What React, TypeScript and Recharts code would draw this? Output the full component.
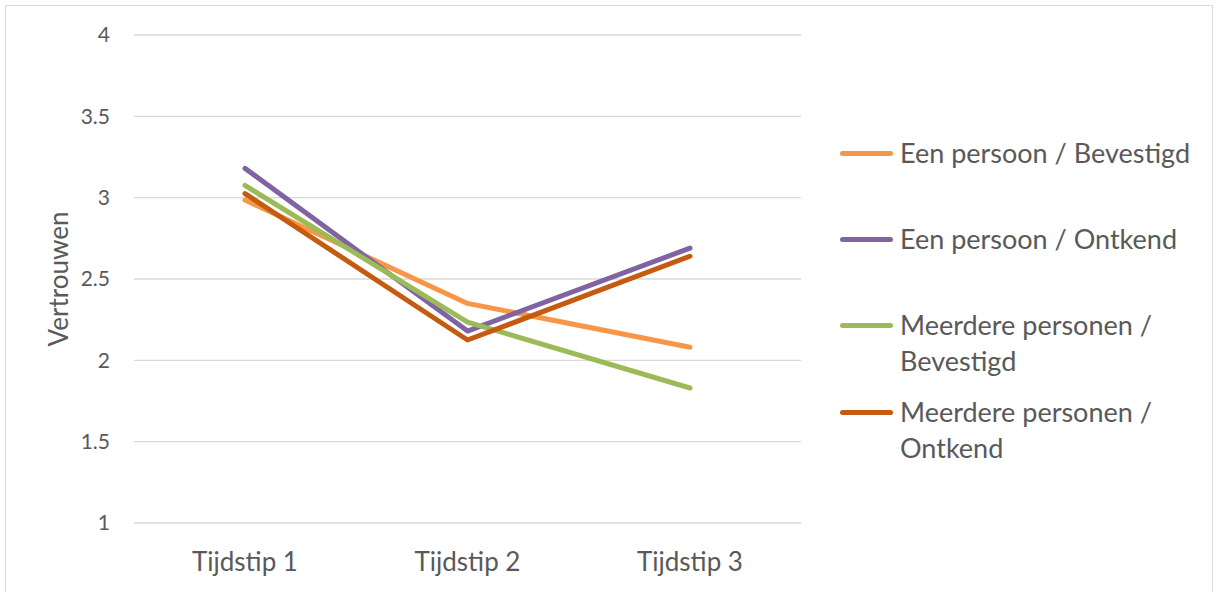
import React from 'react';
import { CartesianGrid, Line, LineChart, XAxis, YAxis } from 'recharts';

const timepoints = ['Tijdstip 1', 'Tijdstip 2', 'Tijdstip 3'];
const eenBevestigd = [2.985, 2.35, 2.08];
const eenOntkend = [3.18, 2.18, 2.69];
const meerBevestigd = [3.075, 2.235, 1.83];
const meerOntkend = [3.025, 2.125, 2.64];
const yTicks = [1, 1.5, 2, 2.5, 3, 3.5, 4];

const seriesInfo = [
  { key: 'eenBevestigd', name: 'Een persoon / Bevestigd', color: '#F79646', lines: ['Een persoon / Bevestigd'] },
  { key: 'eenOntkend', name: 'Een persoon / Ontkend', color: '#8064A2', lines: ['Een persoon / Ontkend'] },
  { key: 'meerBevestigd', name: 'Meerdere personen / Bevestigd', color: '#9BBB59', lines: ['Meerdere personen /', 'Bevestigd'] },
  { key: 'meerOntkend', name: 'Meerdere personen / Ontkend', color: '#C55A11', lines: ['Meerdere personen /', 'Ontkend'] },
];

const chartData = timepoints.map((t, i) => ({
  name: t,
  eenBevestigd: eenBevestigd[i],
  eenOntkend: eenOntkend[i],
  meerBevestigd: meerBevestigd[i],
  meerOntkend: meerOntkend[i],
}));

const FONT = 'Lato, "Open Sans", sans-serif';
const TEXT = '#595959';

// first-line centres of the legend entries
const legendRows = [153, 239, 325, 412];

const LegendBox: React.FC = () => (
  <div style={{ position: 'absolute', left: 840, top: 0, fontFamily: FONT, color: TEXT, fontSize: 27 }}>
    {seriesInfo.map((s, i) => (
      <div key={s.key} style={{ position: 'absolute', left: 0, top: legendRows[i] - 18, display: 'flex', alignItems: 'flex-start', whiteSpace: 'nowrap' }}>
        <div style={{ width: 53, height: 5, borderRadius: 3, background: s.color, marginTop: 15.5, marginRight: 7 }} />
        <div style={{ lineHeight: '36px' }}>
          {s.lines.map((l) => (
            <div key={l}>{l}</div>
          ))}
        </div>
      </div>
    ))}
  </div>
);

const AxisTitle = () => (
  <text x={58} y={279} transform="rotate(-90, 58, 279)" textAnchor="middle" dominantBaseline="central" fill={TEXT} fontSize={26} fontFamily={FONT}>
    Vertrouwen
  </text>
);

export default function App() {
  return (
    <div style={{ position: 'absolute', left: 0, top: 0, width: 1216, height: 592, background: '#fff' }}>
      <div style={{ position: 'absolute', left: 5, top: 5, width: 1206, height: 600, border: '1px solid #d9d9d9' }} />
      <div style={{ position: 'absolute', left: 0, top: 0 }}>
        <LineChart width={1216} height={592} data={chartData} margin={{ top: 35, right: 415, bottom: 0, left: 0 }}>
          <CartesianGrid vertical={false} stroke="#d9d9d9" strokeWidth={1.3} />
          <XAxis
            dataKey="name"
            height={69}
            padding={{ left: 111, right: 111 }}
            axisLine={false}
            tickLine={false}
            tickSize={0}
            tickMargin={30}
            tick={{ fontSize: 26, fill: TEXT, fontFamily: FONT }}
          />
          <YAxis
            type="number"
            domain={[1, 4]}
            ticks={yTicks}
            width={134}
            axisLine={false}
            tickLine={false}
            tickSize={0}
            tickMargin={24}
            tick={{ fontSize: 21, fill: TEXT, fontFamily: FONT }}
          />
          {seriesInfo.map((s) => (
            <Line
              key={s.key}
              type="linear"
              dataKey={s.key}
              name={s.name}
              stroke={s.color}
              strokeWidth={5}
              strokeLinecap="round"
              strokeLinejoin="round"
              dot={false}
              activeDot={false}
              isAnimationActive={false}
            />
          ))}
          <AxisTitle />
        </LineChart>
      </div>
      <LegendBox />
    </div>
  );
}
